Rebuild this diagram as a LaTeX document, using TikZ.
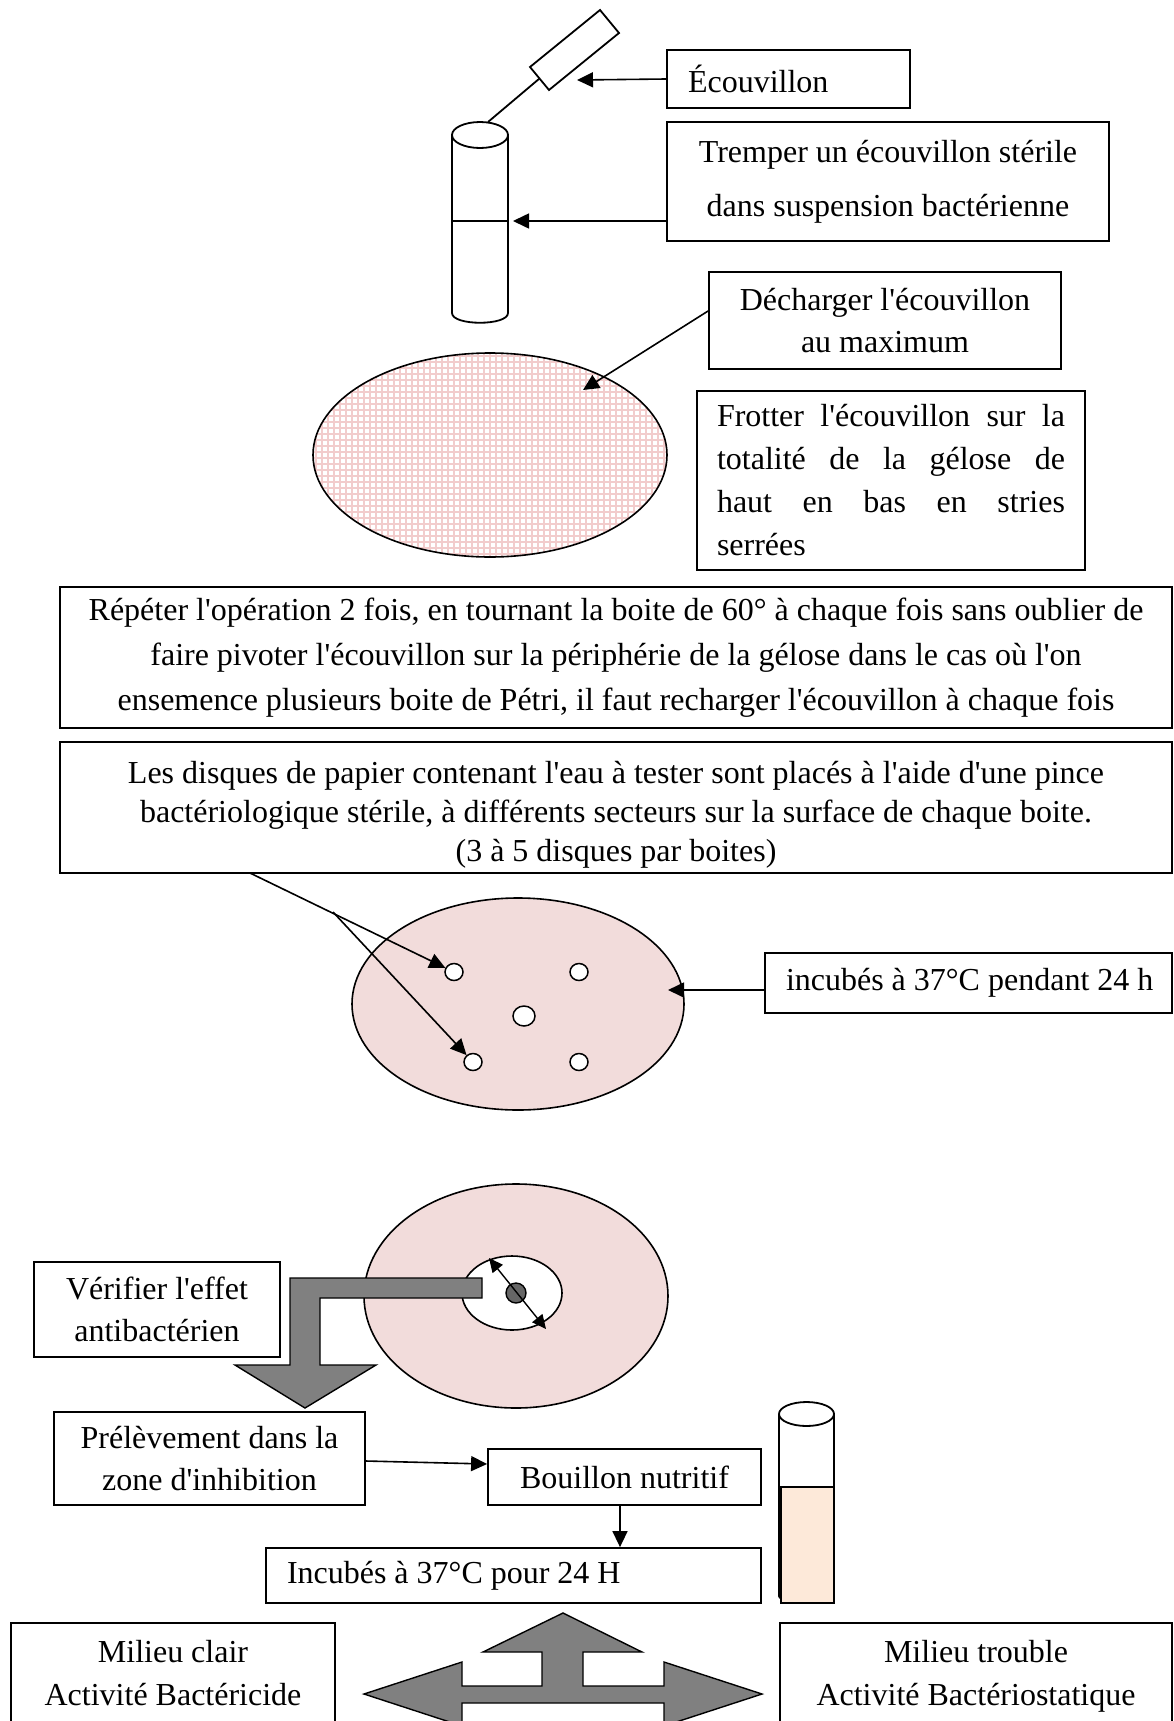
\documentclass[tikz,border=0pt]{standalone}
\usepackage{fontspec}
\setmainfont{Liberation Serif}[Ligatures=TeXOff]
\usetikzlibrary{arrows.meta,shapes.geometric}
\definecolor{platepink}{RGB}{242,220,219}
\definecolor{gridpink}{RGB}{242,204,204}
\definecolor{broth}{RGB}{253,233,217}
\definecolor{arrowgray}{RGB}{128,128,128}
\definecolor{discgray}{RGB}{102,102,102}
\newcommand\fsz[1]{\fontsize{32}{#1}\selectfont}
\begin{document}
\begin{tikzpicture}[x=1pt,y=-1pt,
  box/.style={draw, line width=1.8pt, fill=white, inner sep=0pt, align=center},
  arr/.style={line width=1.6pt, -{Triangle[length=16pt,width=15pt]}},
  outl/.style={line width=1.8pt},
  gshape/.style={fill=arrowgray, draw=black, line width=1.4pt, line join=miter},
  disc/.style={ellipse, draw, fill=white, line width=1.5pt, inner sep=0pt, minimum width=18pt, minimum height=17pt},
]
\useasboundingbox (0,0) rectangle (1174,1721);
\fill[white] (0,0) rectangle (1174,1721);

% swab and tube
\draw[outl] (600,10) -- (619,33) -- (549,90) -- (530,67) -- cycle;
\draw[outl] (539.5,78.5) -- (488,122);
\draw[outl] (452,135) -- (452,313) .. controls (452,326) and (508,326) .. (508,313) -- (508,135);
\draw[outl] (480,135) ellipse (28 and 13);
\draw[outl] (452,221) -- (508,221);
\coordinate (swabpt) at (577,80);
\coordinate (liqpt) at (513,221);

\node[box, minimum width=243pt, minimum height=58pt, font=\fsz{43}] (ecou) at (788.5,79) {\makebox[243pt][l]{\hspace{21pt}Écouvillon}};
\draw[arr] (ecou.west) -- (swabpt);

\node[box, minimum width=442pt, minimum height=119pt, font=\fsz{43}] (tremper) at (888,181.5) {Tremper un écouvillon stérile\\[11pt]dans suspension bactérienne};
\draw[arr] (liqpt -| tremper.west) -- (liqpt);

% plate 1 (grid pattern)
\begin{scope}
\clip (490,455) ellipse (177 and 102);
\foreach \gx in {310,316,...,670} \draw[gridpink, line width=1.3pt] (\gx,350) -- (\gx,560);
\foreach \gy in {350,356,...,560} \draw[gridpink, line width=1.3pt] (310,\gy) -- (670,\gy);
\end{scope}
\draw[line width=1.6pt] (490,455) ellipse (177 and 102);

\node[box, minimum width=352pt, minimum height=97pt, font=\fsz{42}] (dech) at (885,320.5) {Décharger l'écouvillon\\au maximum};
\coordinate (p1pt) at (583,390);
\draw[arr] ([yshift=9.5pt]dech.west) -- (p1pt);

\node[box, minimum width=388pt, minimum height=179pt, font=\fsz{43}, align=left] (frot) at (891,480.5) {\makebox[348pt][s]{Frotter l'écouvillon sur la}\\\makebox[348pt][s]{totalité de la gélose de}\\\makebox[348pt][s]{haut en bas en stries}\\serrées};

\node[box, minimum width=1112pt, minimum height=141pt, font=\fsz{45}] (rep) at (616,657.5) {Répéter l'opération 2 fois, en tournant la boite de 60° à chaque fois sans oublier de\\faire pivoter l'écouvillon sur la périphérie de la gélose dans le cas où l'on\\ensemence plusieurs boite de Pétri, il faut recharger l'écouvillon à chaque fois};

\node[box, minimum width=1112pt, minimum height=131pt] (disq) at (616,807.5) {};
\node[font=\fsz{39}, align=center, inner sep=0pt, anchor=north] (disqtxt) at (616,761) {Les disques de papier contenant l'eau à tester sont placés à l'aide d'une pince\\bactériologique stérile, à différents secteurs sur la surface de chaque boite.\\(3 à 5 disques par boites)};

% plate 2
\node[ellipse, draw, line width=1.6pt, fill=platepink, minimum width=332pt, minimum height=212pt] (plate2) at (518,1004) {};
\node[disc] (disc1) at (454,972) {};
\node[disc] (disc2) at (579,972) {};
\node[disc, minimum width=22pt, minimum height=20pt] (disc3) at (524,1016) {};
\node[disc] (disc4) at (473,1062) {};
\node[disc] (disc5) at (579,1062) {};
\coordinate (d0) at (250,873);
\coordinate (d1) at (333,912);
\draw[arr] (d0) -- (disc1);
\draw[arr] (d1) -- (disc4);

\node[box, minimum width=407pt, minimum height=60pt, font=\fsz{43}] (inc1) at (968.5,983) {\makebox[407pt][l]{\hspace{21pt}incubés à 37°C pendant 24 h}};
\coordinate (p2pt) at (668,990);
\draw[arr] ([yshift=-7pt]inc1.west) -- (p2pt);

% plate 3
\node[ellipse, draw, line width=1.6pt, fill=platepink, minimum width=304pt, minimum height=224pt] (plate3) at (516,1296) {};
\node[ellipse, draw, line width=1.6pt, fill=white, minimum width=100pt, minimum height=74pt] (zone) at (512,1293) {};
\node[circle, draw, line width=1.4pt, fill=discgray, minimum size=20pt, inner sep=0pt] (disc6) at (516,1293) {};
\coordinate (za) at (489,1258);
\coordinate (zb) at (546,1329);
\draw[line width=1.4pt, {Triangle[length=14pt,width=13pt]}-{Triangle[length=14pt,width=13pt]}] (za) -- (zb);

\draw[gshape] (482,1278) -- (290,1278) -- (290,1365) -- (235,1365) -- (305,1408) -- (376,1365) -- (320,1365) -- (320,1298) -- (482,1298) -- cycle;

\node[box, minimum width=246pt, minimum height=95pt, font=\fsz{42}] (verif) at (157,1309.5) {Vérifier l'effet\\antibactérien};

\node[box, minimum width=311pt, minimum height=93pt, font=\fsz{42}] (prel) at (209.5,1458.5) {Prélèvement dans la\\zone d'inhibition};
\node[box, minimum width=273pt, minimum height=56pt, font=\fsz{43}] (bouil) at (624.5,1477) {Bouillon nutritif};
\node[box, minimum width=495pt, minimum height=55pt, font=\fsz{43}] (inc2) at (513.5,1575.5) {\makebox[495pt][l]{\hspace{21pt}Incubés à 37°C pour 24 H}};
\draw[arr] ([yshift=-2.5pt]prel.east) -- ([yshift=13pt]bouil.west);
\draw[arr] ([xshift=-4.5pt]bouil.south) -- ([xshift=-4.5pt]bouil.south |- inc2.north);

% tube 2
\draw[outl] (779,1414) -- (779,1596) .. controls (779,1604) and (834,1604) .. (834,1596) -- (834,1414);
\draw[outl] (806.5,1414) ellipse (27.5 and 12);
\draw[outl, fill=broth] (781,1487) rectangle (834,1603);

% three-way arrow
\draw[gshape] (364,1694) -- (462,1662) -- (462,1686) -- (542,1686) -- (542,1652) -- (483,1652) -- (563,1613) -- (642,1652) -- (583,1652) -- (583,1686) -- (664,1686) -- (664,1662) -- (762,1694) -- (664,1726) -- (664,1703) -- (462,1703) -- (462,1726) -- cycle;

\node[box, minimum width=324pt, minimum height=100pt, font=\fsz{43}] (clair) at (173,1673) {Milieu clair\\Activité Bactéricide};
\node[box, minimum width=392pt, minimum height=100pt] (troub) at (976,1673) {};
\node[font=\fsz{43}, align=center, inner sep=0pt, anchor=north] (troubtxt) at (976,1640) {Milieu trouble\\Activité Bactériostatique};
\end{tikzpicture}
\end{document}
